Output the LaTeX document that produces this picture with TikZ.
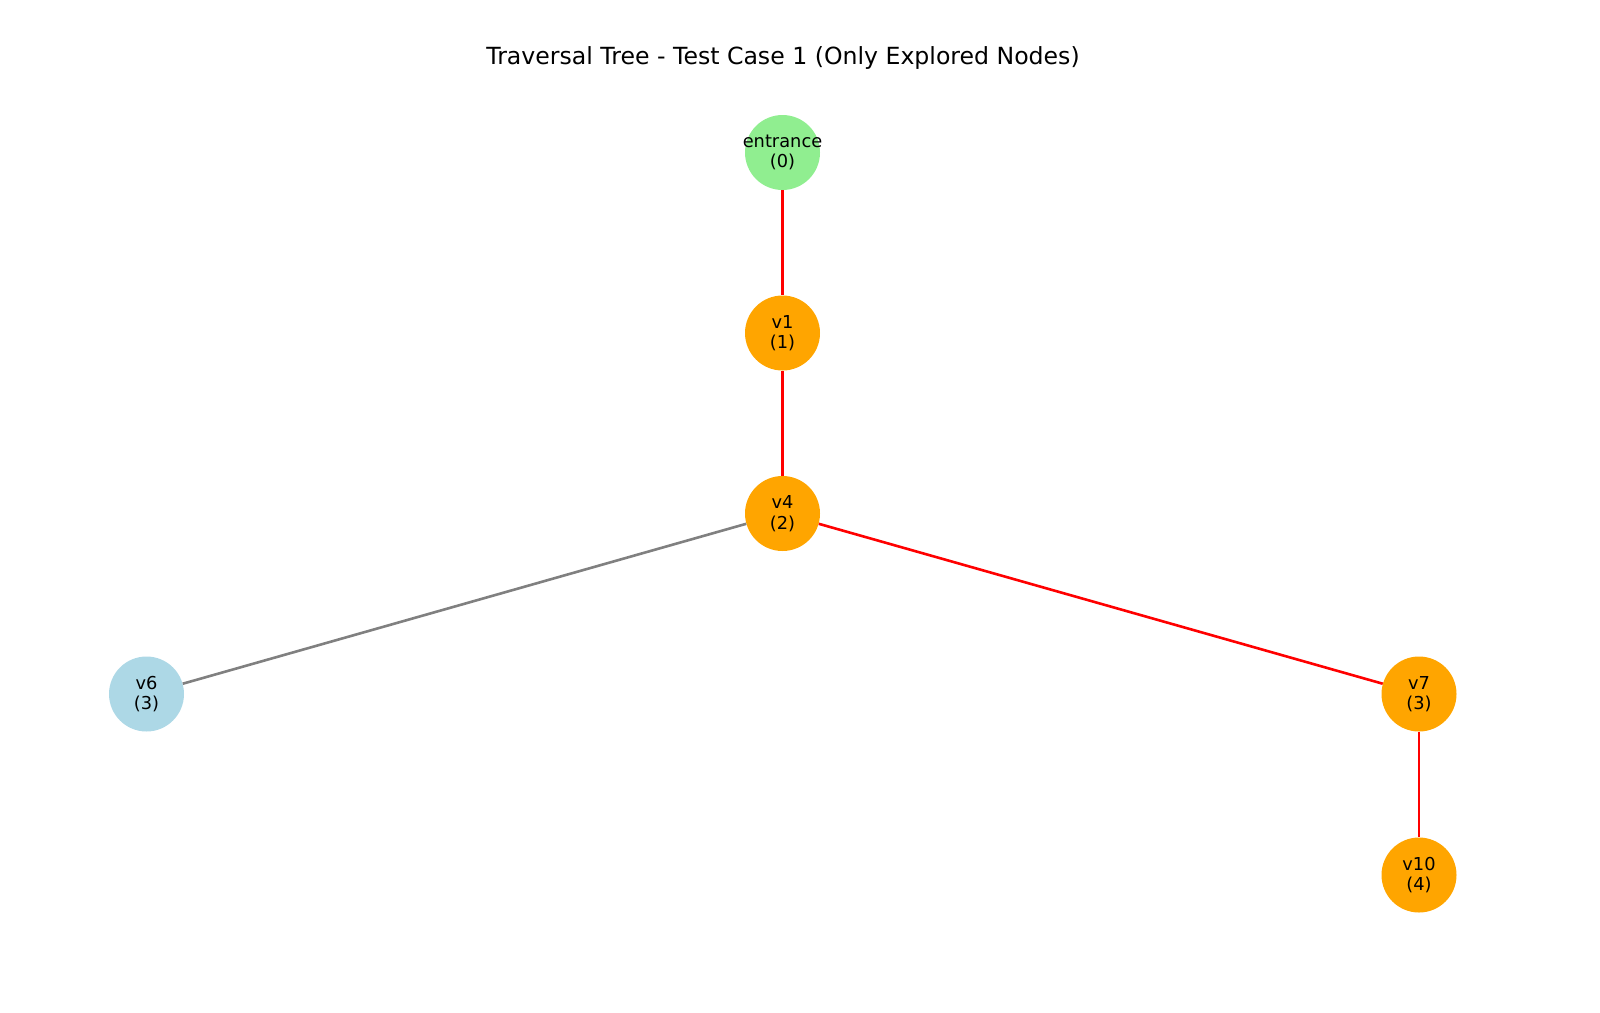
\documentclass[tikz,border=0pt]{standalone}
\usepackage{fontspec}
\setmainfont{DejaVu Sans}
\usepackage{xcolor}
\usetikzlibrary{positioning}

\definecolor{lgreen}{HTML}{90EE90}
\definecolor{orng}{HTML}{FFA500}
\definecolor{lblue}{HTML}{ADD8E6}

% two-line label that does not widen the circle
\newcommand{\vlbl}[2]{\makebox[0pt]{#1}\\\makebox[0pt]{#2}}

\begin{document}
\begin{tikzpicture}[
  x=1pt, y=-1pt,
  vtx/.style={circle, minimum size=75pt, inner sep=0pt,
    font=\fontsize{17.8}{20.5}\selectfont, align=center},
  path/.style={red, line width=2.6pt},
  side/.style={gray, line width=2.6pt},
]

% ---- 1. canvas ----
\useasboundingbox (0,0) rectangle (1600,1012);

% ---- 2. title ----
\node[font=\fontsize{23.6}{28}\selectfont] (title) at (783,58)
  {Traversal Tree - Test Case 1 (Only Explored Nodes)};

% ---- 3. nodes (level = depth) ----
\pgfmathsetmacro{\cx}{782.5}
\node[vtx, fill=lgreen] (ent) at (\cx,152.5) {\vlbl{entrance}{(0)}};
\node[vtx, fill=orng]   (v1)  at (\cx,333)   {\vlbl{v1}{(1)}};
\node[vtx, fill=orng]   (v4)  at (\cx,513.5) {\vlbl{v4}{(2)}};
\node[vtx, fill=lblue]  (v6)  at (146.5,694) {\vlbl{v6}{(3)}};
\node[vtx, fill=orng]   (v7)  at (1419,694)  {\vlbl{v7}{(3)}};
\node[vtx, fill=orng]   (v10) at (1419,875)  {\vlbl{v10}{(4)}};

% ---- 4. edges ----
\draw[path] (ent) -- (v1);
\draw[path] (v1) -- (v4);
\draw[side] (v4) -- (v6);
\draw[path] (v4) -- (v7);
\draw[path] (v7) -- (v10);

\end{tikzpicture}
\end{document}
